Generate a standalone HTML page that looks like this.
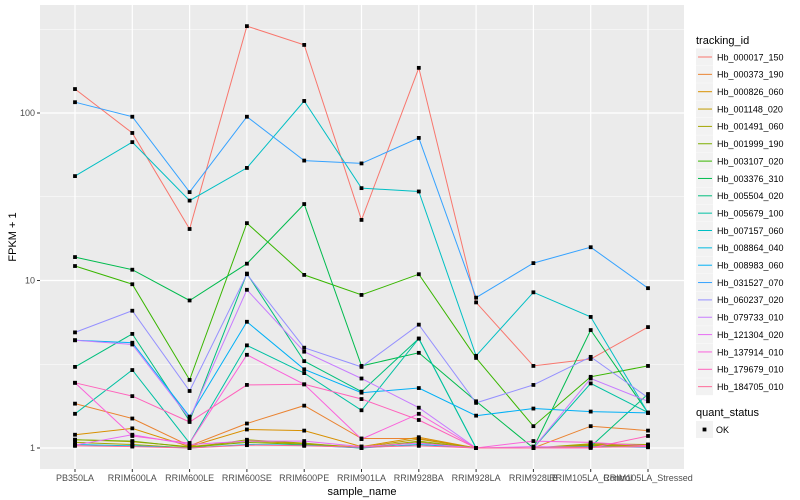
<!DOCTYPE html>
<html><head><meta charset="utf-8">
<style>
html,body{margin:0;padding:0;background:#fff;}
svg{display:block;font-family:"Liberation Sans",Arial,sans-serif;}
</style></head>
<body>
<svg id="chart" width="800" height="500" viewBox="0 0 800 500">
<rect x="0" y="0" width="800" height="500" fill="#fff"/>
<rect x="40" y="5" width="644" height="464" fill="#ebebeb"/>
<g id="grid"></g>
<g id="series"></g>
<g id="axes"></g>
<text x="362" y="495" font-size="11" text-anchor="middle" fill="#000">sample_name</text>
<text transform="translate(16,237) rotate(-90)" font-size="11" text-anchor="middle" fill="#000">FPKM + 1</text>
<g id="legend"></g>
</svg>
<script>
const categories = ["PB350LA","RRIM600LA","RRIM600LE","RRIM600SE","RRIM600PE","RRIM901LA","RRIM928BA","RRIM928LA","RRIM928LB","RRIM105LA_Control","RRIM105LA_Stressed"];
const seriesNames = ["Hb_000017_150","Hb_000373_190","Hb_000826_060","Hb_001148_020","Hb_001491_060","Hb_001999_190","Hb_003107_020","Hb_003376_310","Hb_005504_020","Hb_005679_100","Hb_007157_060","Hb_008864_040","Hb_008983_060","Hb_031527_070","Hb_060237_020","Hb_079733_010","Hb_121304_020","Hb_137914_010","Hb_179679_010","Hb_184705_010"];
const s000017 = [139,76,20.3,330,255,23,186,7.4,3.09,3.4,5.27];
const s000373 = [1.84,1.5,1.03,1.4,1.79,1.14,1.14,1,1,1.35,1.27];
const s000826 = [1.2,1.31,1.02,1.29,1.27,1.02,1.16,1,1,1.04,1.03];
const s001148 = [1.12,1.09,1.02,1.1,1.06,1.01,1.13,1,1,1.05,1.04];
const s001491 = [1.08,1.05,1.0,1.12,1.07,1.0,1.1,1,1,1.06,1.05];
const s001999 = [1.12,1.1,1.01,1.08,1.05,1.0,1.08,1,1,1.03,1.02];
const s003107 = [12.2,9.5,2.55,22,10.8,8.2,10.9,3.45,1.35,2.66,3.09];
const s003376 = [13.8,11.6,7.6,12.6,28.6,3.09,3.7,1.9,1,5.06,1.62];
const s005504 = [3.05,4.8,1.45,11.0,3.3,2.17,4.5,1,1,1.02,2.1];
const s005679 = [1.6,2.92,1.07,4.1,2.8,1.68,4.5,1,1,2.43,1.63];
const s007157 = [42,67,30,47,118,35.6,34,3.55,8.5,6.06,1.62];
const s008864 = [1.05,1.03,1.0,1.05,1.04,1.0,1.05,1,1,1.02,1.01];
const s008983 = [4.4,4.25,1.54,5.67,2.95,2.14,2.28,1.56,1.72,1.65,1.62];
const s031527 = [116,95,33.7,95,52,50,71,7.9,12.7,15.8,9.0];
const s060237 = [4.9,6.6,2.19,10.9,3.97,3.05,5.45,1.86,2.38,3.5,2.0];
const s079733 = [4.4,4.15,1.5,8.8,3.76,2.6,1.74,1,1,2.6,1.9];
const s121304 = [1.04,1.2,1.05,1.1,1.1,1.02,1.07,1,1.02,1.01,1.02];
const s137914 = [2.45,1.18,1.07,3.6,2.4,1.13,1.6,1,1.1,1.08,1.03];
const s179679 = [2.45,2.04,1.43,2.38,2.4,1.96,1.47,1,1,1.0,1.18];
const s184705 = [1.03,1.02,1.0,1.04,1.03,1.01,1.03,1,1,1.01,1.02];
const seriesValues = [s000017,s000373,s000826,s001148,s001491,s001999,s003107,s003376,s005504,s005679,s007157,s008864,s008983,s031527,s060237,s079733,s121304,s137914,s179679,s184705];
const yTickValues = [1,10,100];
const yTickLabels = ["1","10","100"];
const yMinorValues = [3.1623,31.623,316.23];

const NS="http://www.w3.org/2000/svg";
function mk(tag,attrs,parent){const e=document.createElementNS(NS,tag);for(const k in attrs)e.setAttribute(k,attrs[k]);parent.appendChild(e);return e;}
const X0=75, DX=57.3;
function xScale(i){return X0+i*DX;}
function yScale(v){return 448-167.5*Math.log10(v);}
function hcl(h){
  const L=65,C=100,hr=h*Math.PI/180,u=C*Math.cos(hr),v=C*Math.sin(hr);
  const Xn=95.047,Yn=100,Zn=108.883,d=Xn+15*Yn+3*Zn,un=4*Xn/d,vn=9*Yn/d;
  const Y=Yn*Math.pow((L+16)/116,3),up=u/(13*L)+un,vp=v/(13*L)+vn;
  const X=Y*9*up/(4*vp),Z=Y*(12-3*up-20*vp)/(4*vp);
  const x=X/100,y=Y/100,z=Z/100;
  let r=3.2406*x-1.5372*y-0.4986*z,g=-0.9689*x+1.8758*y+0.0415*z,b=0.0557*x-0.2040*y+1.0570*z;
  const gm=c=>{c=c<=0.0031308?12.92*c:1.055*Math.pow(c,1/2.4)-0.055;return Math.round(Math.max(0,Math.min(1,c))*255);};
  return "rgb("+gm(r)+","+gm(g)+","+gm(b)+")";
}
const colors = seriesNames.map((n,i)=>hcl(15+i*18));

const grid=document.getElementById('grid');
yMinorValues.forEach(v=>{const l=mk('line',{x1:40,x2:684,y1:yScale(v),y2:yScale(v),stroke:'#fff','stroke-width':0.6},grid);

});
yTickValues.forEach(v=>{const l=mk('line',{x1:40,x2:684,y1:yScale(v),y2:yScale(v),stroke:'#fff','stroke-width':1.2},grid);

});
categories.forEach((c,i)=>{const l=mk('line',{x1:xScale(i),x2:xScale(i),y1:5,y2:469,stroke:'#fff','stroke-width':1.2},grid);

});

const sg=document.getElementById('series');
seriesValues.forEach((vals,si)=>{
  const d=vals.map((v,i)=>(i?'L':'M')+xScale(i).toFixed(1)+','+yScale(v).toFixed(1)).join(' ');
  const p=mk('path',{d:d,fill:'none',stroke:colors[si],'stroke-width':1},sg);
  
  
});
seriesValues.forEach((vals,si)=>{
  vals.forEach((v,i)=>{const r=mk('rect',{x:xScale(i)-1.9,y:yScale(v)-1.9,width:3.8,height:3.8,fill:'#000'},sg);
  
  });
});

const ax=document.getElementById('axes');
yTickValues.forEach((v,i)=>{
  const y=yScale(v);
  const t=mk('line',{x1:37,x2:40,y1:y,y2:y,stroke:'#333','stroke-width':1},ax);
  
  
  const tx=mk('text',{x:35,y:y+3,'font-size':9,'text-anchor':'end',fill:'#4d4d4d'},ax);
  tx.textContent=yTickLabels[i];
  
  
});
categories.forEach((c,i)=>{
  const x=xScale(i);
  const t=mk('line',{x1:x,x2:x,y1:469,y2:472,stroke:'#333','stroke-width':1},ax);
  
  
  const tx=mk('text',{x:x,y:481,'font-size':9,'text-anchor':'middle',fill:'#4d4d4d'},ax);
  tx.textContent=c;
  
  
});

const lg=document.getElementById('legend');
const tt=mk('text',{x:696,y:44,'font-size':11,fill:'#000'},lg);
tt.textContent='tracking_id';


seriesNames.forEach((n,i)=>{
  const y=57+i*17.35;
  const b=mk('rect',{x:696,y:y-8.5,width:17,height:17,fill:'#f2f2f2'},lg);
  
  
  const l=mk('line',{x1:698,x2:712,y1:y,y2:y,stroke:colors[i],'stroke-width':1},lg);
  
  
  const t=mk('text',{x:717,y:y+3.3,'font-size':9,fill:'#000'},lg);
  t.textContent=n;
  
  
});
const qt=mk('text',{x:696,y:416,'font-size':11,fill:'#000'},lg);
qt.textContent='quant_status';


const qb=mk('rect',{x:696,y:421,width:17,height:17,fill:'#f2f2f2'},lg);


const qp=mk('rect',{x:702.6,y:427.6,width:3.8,height:3.8,fill:'#000'},lg);


const qx=mk('text',{x:716,y:433,'font-size':9,fill:'#000'},lg);
qx.textContent='OK';


</script>
</body></html>
